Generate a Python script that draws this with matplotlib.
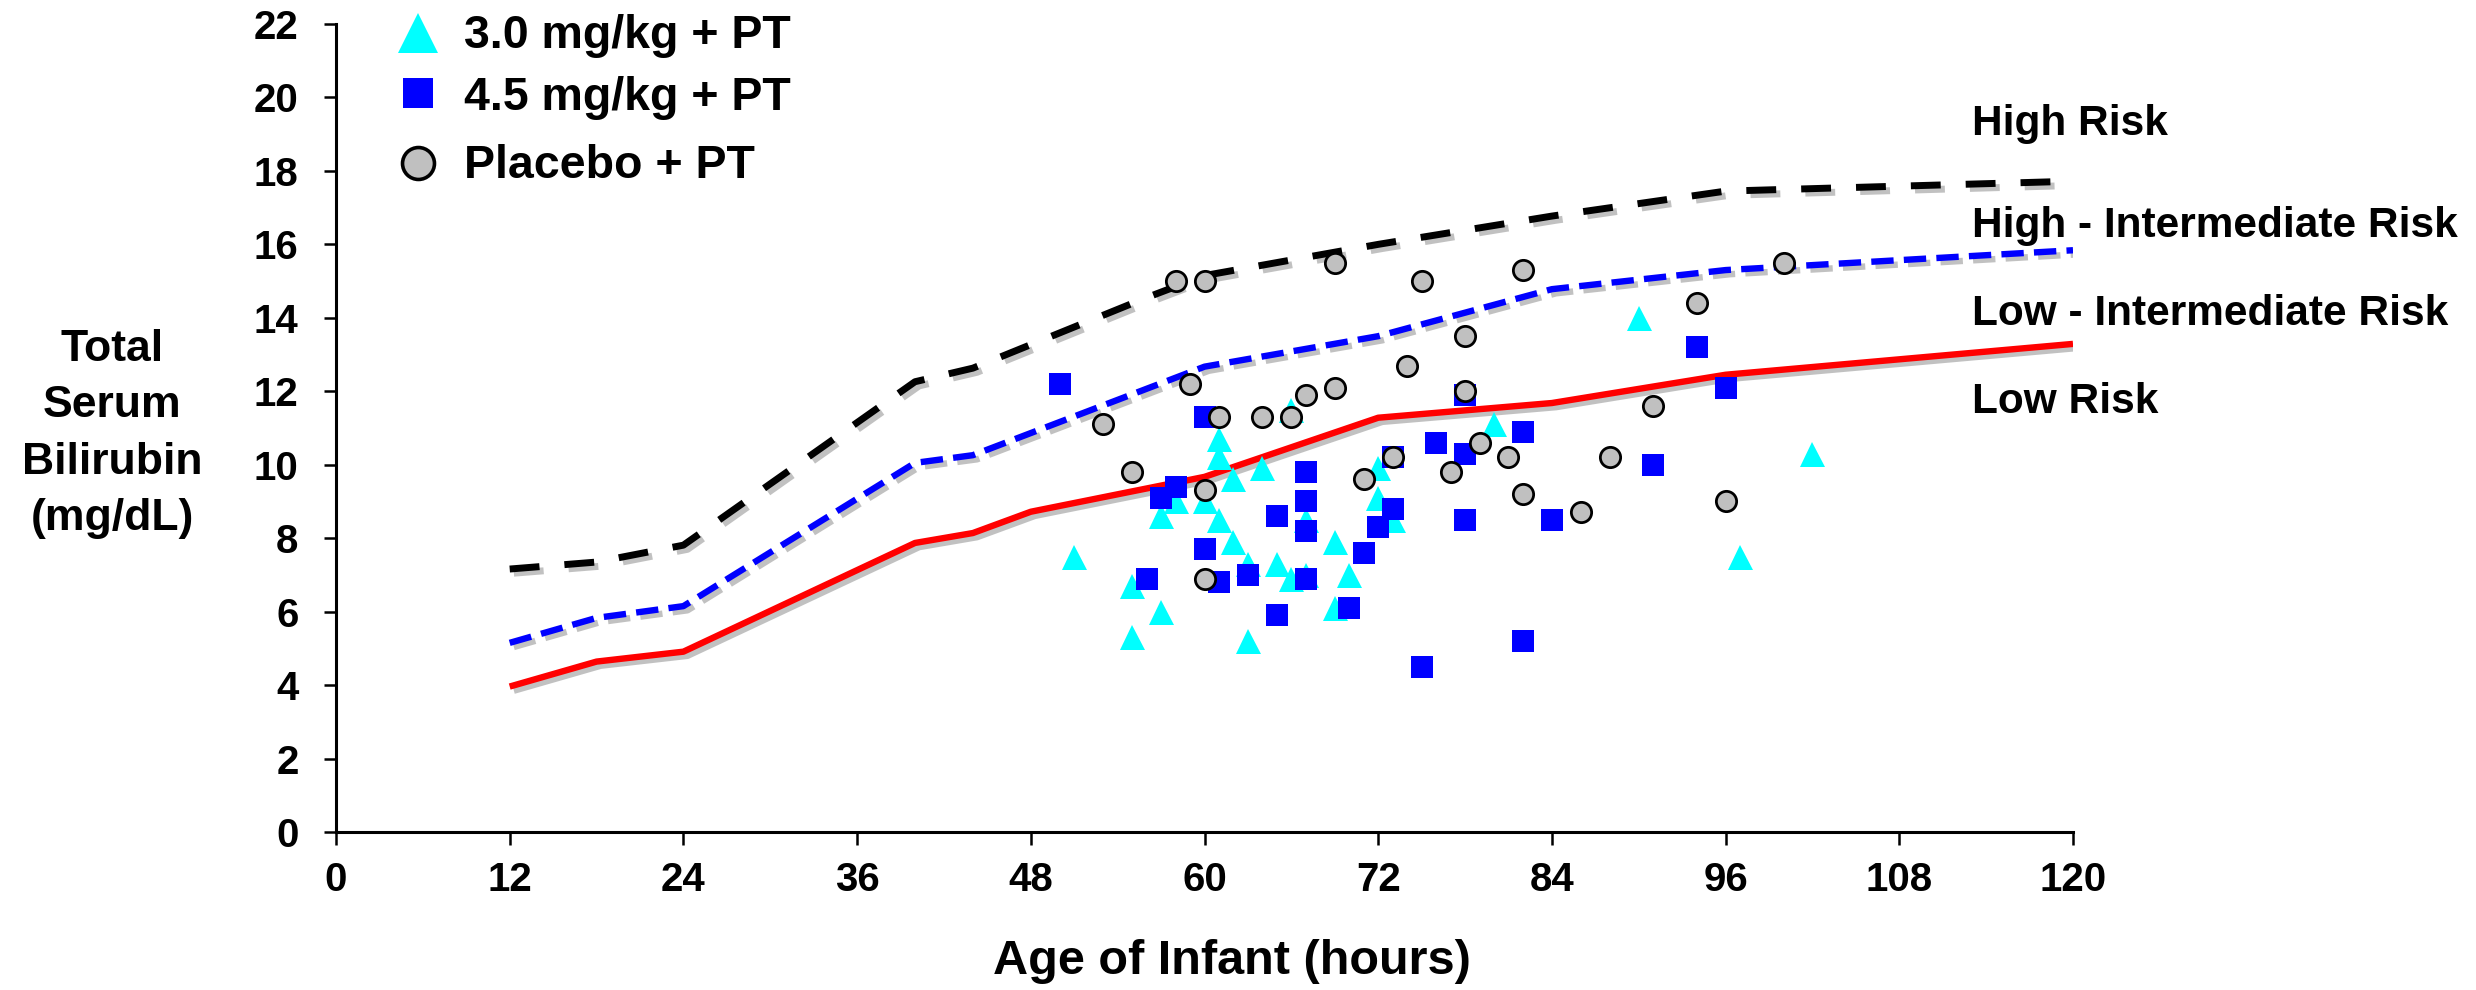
import matplotlib
matplotlib.use("Agg")
import matplotlib.pyplot as plt
import matplotlib.patheffects as pe

plt.rcParams['font.family'] = ['Liberation Sans', 'DejaVu Sans']
plt.rcParams['font.weight'] = 'bold'

# ---- data ----
x_ticks = [0, 12, 24, 36, 48, 60, 72, 84, 96, 108, 120]
y_ticks = [0, 2, 4, 6, 8, 10, 12, 14, 16, 18, 20, 22]

high_hours = [12, 18, 24, 40, 44, 56, 60, 72, 84, 96, 120]
high_vals = [7.16, 7.35, 7.81, 12.26, 12.63, 14.55, 15.15, 16.0, 16.77, 17.45, 17.72]

hiint_hours = [12, 18, 24, 40, 44, 60, 72, 84, 96, 120]
hiint_vals = [5.15, 5.83, 6.15, 10.05, 10.26, 12.67, 13.5, 14.78, 15.3, 15.84]

loint_hours = [12, 18, 24, 40, 44, 48, 60, 72, 84, 96, 120]
loint_vals = [3.96, 4.64, 4.91, 7.87, 8.14, 8.72, 9.67, 11.28, 11.68, 12.45, 13.29]

zone_labels = ["High Risk", "High - Intermediate Risk", "Low - Intermediate Risk", "Low Risk"]

tri_x = [51, 55, 55, 57, 57, 58, 60, 61, 61, 61, 62, 62, 63, 63, 64, 65, 66, 66,
         67, 67, 69, 69, 70, 72, 72, 73, 80, 90, 97, 102]
tri_y = [7.5, 6.7, 5.3, 8.6, 6.0, 9.0, 9.0, 10.7, 10.2, 8.5, 9.6, 7.9, 7.3, 5.2, 9.9, 7.3, 11.5, 6.9,
         8.5, 7.0, 7.9, 6.1, 7.0, 9.9, 9.1, 8.5, 11.1, 14.0, 7.5, 10.3]

sq_x = [50, 56, 57, 58, 60, 60, 61, 63, 65, 65, 67, 67, 67, 67, 70, 71, 72, 73, 73,
        75, 76, 78, 78, 78, 82, 82, 84, 91, 94, 96]
sq_y = [12.2, 6.9, 9.1, 9.4, 11.3, 7.7, 6.8, 7.0, 8.6, 5.9, 9.8, 9.0, 8.2, 6.9, 6.1, 7.6, 8.3, 8.8, 10.2,
        4.5, 10.6, 11.9, 10.3, 8.5, 10.9, 5.2, 8.5, 10.0, 13.2, 12.1]

pl_x = [53, 55, 58, 59, 60, 60, 60, 61, 64, 66, 67, 69, 69, 71, 73, 74, 75, 77, 78, 78,
        79, 81, 82, 82, 86, 88, 91, 94, 96, 100]
pl_y = [11.1, 9.8, 15.0, 12.2, 15.0, 9.3, 6.9, 11.3, 11.3, 11.3, 11.9, 15.5, 12.1, 9.6, 10.2, 12.7, 15.0, 9.8, 13.5, 12.0,
        10.6, 10.2, 15.3, 9.2, 8.7, 10.2, 11.6, 14.4, 9.0, 15.5]

series_labels = ["3.0 mg/kg + PT", "4.5 mg/kg + PT", "Placebo + PT"]

# ---- figure ----
W, H, DPI = 2476, 990, 100
fig = plt.figure(figsize=(W / DPI, H / DPI), dpi=DPI)
ax = fig.add_axes([336 / W, 1 - 832 / H, (2073 - 336) / W, (832 - 24) / H])

shadow = [pe.SimpleLineShadow(offset=(3, -3), shadow_color='0.4', alpha=0.4), pe.Normal()]

l1, = ax.plot(high_hours, high_vals, color='black', lw=5.0, solid_capstyle='butt',
              dash_capstyle='butt', path_effects=shadow, zorder=2)
l1.set_dashes([4.3, 3.6])
l2, = ax.plot(hiint_hours, hiint_vals, color='#0000FF', lw=4.6, dash_capstyle='butt',
              path_effects=shadow, zorder=2)
l2.set_dashes([3.5, 1.6])
ax.plot(loint_hours, loint_vals, color='#FF0000', lw=4.6, solid_capstyle='butt',
        path_effects=shadow, zorder=2)

ax.plot(tri_x, tri_y, linestyle='none', marker='^', markersize=18, color='#00FFFF',
        markeredgewidth=0, zorder=3)
ax.plot(sq_x, sq_y, linestyle='none', marker='s', markersize=15.6, color='#0000FF',
        markeredgewidth=0, zorder=4)
ax.plot(pl_x, pl_y, linestyle='none', marker='o', markersize=14.6, markerfacecolor='#C0C0C0',
        markeredgecolor='black', markeredgewidth=2.0, zorder=5)

# zone labels at the right of the curves
zone_y = [18.98, 16.21, 13.8, 11.41]
for lab, yy in zip(zone_labels, zone_y):
    ax.text(113.0, yy, lab, fontsize=30.5, fontweight='bold', ha='left', va='baseline',
            clip_on=False)

# legend drawn manually at top-left
leg_marker = [dict(marker='^', markersize=29, color='#00FFFF', markeredgewidth=0),
              dict(marker='s', markersize=21, color='#0000FF', markeredgewidth=0),
              dict(marker='o', markersize=23, markerfacecolor='#C0C0C0', markeredgecolor='black',
                   markeredgewidth=2.6)]
leg_marker_y = [0.989, 0.9146, 0.828]
leg_text_y = [0.970, 0.8936, 0.8094]
for lab, mk, my, ty in zip(series_labels, leg_marker, leg_marker_y, leg_text_y):
    ax.plot([0.0472], [my], transform=ax.transAxes, linestyle='none', clip_on=False, **mk)
    ax.text(0.0737, ty, lab, transform=ax.transAxes, fontsize=33.5, fontweight='bold',
            ha='left', va='baseline')

ax.set_xlim(0, 120)
ax.set_ylim(0, 22)
ax.set_xticks(x_ticks)
ax.set_yticks(y_ticks)
ax.set_xticklabels([str(v) for v in x_ticks])
ax.set_yticklabels([str(v) for v in y_ticks])
for s in ['top', 'right']:
    ax.spines[s].set_visible(False)
for s in ['left', 'bottom']:
    ax.spines[s].set_linewidth(2.2)
ax.tick_params(axis='both', direction='out', length=9, width=1.8, labelsize=29)
ax.tick_params(axis='x', pad=12)
ax.tick_params(axis='y', pad=18)
for t in ax.get_xticklabels() + ax.get_yticklabels():
    t.set_fontweight('bold')

fig.text(1232 / W, 1 - 974 / H, "Age of Infant (hours)", fontsize=35, fontweight='bold',
         ha='center', va='baseline')
fig.text(112 / W, 1 - 434 / H, "Total\nSerum\nBilirubin\n(mg/dL)", fontsize=32,
         fontweight='bold', ha='center', va='center', multialignment='center', linespacing=1.48)

fig.savefig("out.png", dpi=DPI)
